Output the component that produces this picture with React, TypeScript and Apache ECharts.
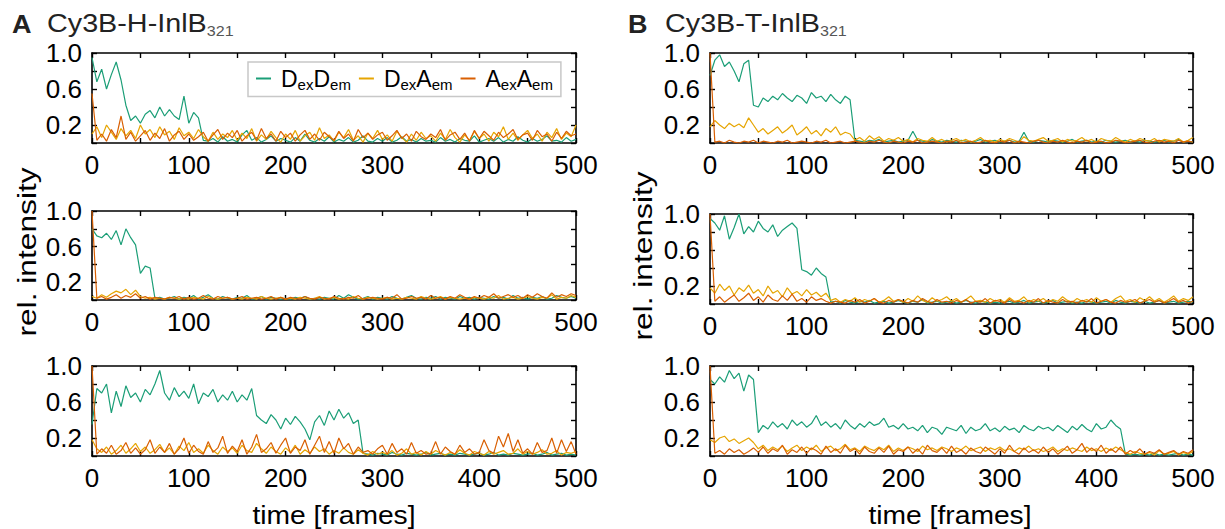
import React, { useEffect, useRef } from "react";
import * as echarts from "echarts";

// sampled every 5 frames: 0, 5, ..., 500
const frames: number[] = Array.from({ length: 101 }, (_, i) => i * 5);

// ---- Panel A (Cy3B-H-InlB321) ----
const ga1 = [
  0.95, 0.68, 0.82, 0.60, 0.76, 0.90, 0.70, 0.42, 0.25, 0.30,
  0.22, 0.32, 0.36, 0.28, 0.40, 0.30, 0.37, 0.30, 0.26, 0.52,
  0.22, 0.34, 0.28, 0.03, 0.02, 0.05, 0.01, 0.07, 0.02, 0.04,
  0.01, 0.09, 0.14, 0.03, 0.06, 0.01, 0.04, 0.08, 0.02, 0.05,
  0.03, 0.01, 0.06, 0.02, 0.10, 0.03, 0.01, 0.05, 0.02, 0.07,
  0.01, 0.04, 0.02, 0.06, 0.01, 0.03, 0.08, 0.02, 0.01, 0.05,
  0.02, 0.06, 0.01, 0.03, 0.07, 0.02, 0.04, 0.01, 0.05, 0.02,
  0.03, 0.01, 0.06, 0.02, 0.04, 0.01, 0.05, 0.03, 0.02, 0.08,
  0.01, 0.03, 0.05, 0.02, 0.06, 0.01, 0.04, 0.02, 0.07, 0.03,
  0.01, 0.05, 0.02, 0.04, 0.08, 0.02, 0.03, 0.01, 0.06, 0.02,
  0.04,
];
const ya1 = [
  0.10, 0.18, 0.06, 0.20, 0.12, 0.04, 0.16, 0.08, 0.14, 0.05,
  0.20, 0.10, 0.15, 0.06, 0.18, 0.09, 0.13, 0.04, 0.17, 0.08,
  0.12, 0.05, 0.15, 0.07, 0.02, 0.12, 0.04, 0.10, 0.06, 0.14,
  0.03, 0.11, 0.05, 0.16, 0.02, 0.09, 0.04, 0.13, 0.06, 0.01,
  0.10, 0.04, 0.14, 0.02, 0.08, 0.12, 0.03, 0.17, 0.05, 0.09,
  0.02, 0.12, 0.06, 0.15, 0.03, 0.08, 0.01, 0.11, 0.05, 0.14,
  0.04, 0.09, 0.02, 0.13, 0.06, 0.01, 0.10, 0.03, 0.12, 0.05,
  0.08, 0.02, 0.11, 0.04, 0.15, 0.06, 0.01, 0.09, 0.03, 0.13,
  0.05, 0.10, 0.02, 0.12, 0.07, 0.18, 0.04, 0.11, 0.03, 0.09,
  0.14, 0.05, 0.10, 0.02, 0.12, 0.06, 0.16, 0.04, 0.11, 0.07,
  0.20,
];
const ra1 = [
  0.55, 0.03, 0.10, 0.02, 0.15, 0.06, 0.30, 0.04, 0.12, 0.02,
  0.08, 0.14, 0.03, 0.11, 0.05, 0.16, 0.02, 0.09, 0.13, 0.04,
  0.10, 0.03, 0.07, 0.12, 0.02, 0.09, 0.15, 0.04, 0.11, 0.06,
  0.14, 0.02, 0.08, 0.12, 0.03, 0.16, 0.05, 0.10, 0.02, 0.13,
  0.06, 0.11, 0.02, 0.09, 0.14, 0.04, 0.10, 0.03, 0.12, 0.07,
  0.03, 0.13, 0.05, 0.10, 0.02, 0.15, 0.06, 0.11, 0.04, 0.09,
  0.12, 0.03, 0.08, 0.14, 0.05, 0.10, 0.02, 0.13, 0.07, 0.04,
  0.10, 0.06, 0.15, 0.03, 0.09, 0.12, 0.04, 0.11, 0.02, 0.14,
  0.05, 0.13, 0.08, 0.03, 0.12, 0.06, 0.10, 0.15, 0.04, 0.09,
  0.11, 0.03, 0.14, 0.07, 0.10, 0.02, 0.12, 0.05, 0.13, 0.08,
  0.10,
];

const ga2 = [
  0.80, 0.72, 0.70, 0.75, 0.68, 0.78, 0.62, 0.80, 0.70, 0.62,
  0.30, 0.38, 0.36, 0.02, 0.03, 0.01, 0.02, 0.04, 0.01, 0.03,
  0.02, 0.05, 0.01, 0.03, 0.06, 0.02, 0.01, 0.04, 0.02, 0.01,
  0.03, 0.02, 0.05, 0.01, 0.02, 0.04, 0.01, 0.03, 0.02, 0.01,
  0.02, 0.01, 0.03, 0.02, 0.04, 0.01, 0.02, 0.01, 0.03, 0.02,
  0.01, 0.05, 0.02, 0.06, 0.03, 0.01, 0.02, 0.04, 0.01, 0.03,
  0.02, 0.01, 0.04, 0.02, 0.01, 0.03, 0.05, 0.02, 0.01, 0.03,
  0.02, 0.04, 0.01, 0.03, 0.02, 0.01, 0.04, 0.02, 0.03, 0.01,
  0.03, 0.02, 0.01, 0.04, 0.02, 0.03, 0.01, 0.05, 0.02, 0.03,
  0.01, 0.03, 0.02, 0.04, 0.01, 0.02, 0.05, 0.03, 0.02, 0.04,
  0.02,
];
const ya2 = [
  0.04, 0.02, 0.06, 0.03, 0.07, 0.10, 0.08, 0.12, 0.06, 0.11,
  0.04, 0.02, 0.03, 0.01, 0.02, 0.01, 0.03, 0.02, 0.01, 0.02,
  0.01, 0.03, 0.02, 0.01, 0.04, 0.02, 0.01, 0.02, 0.03, 0.01,
  0.02, 0.01, 0.03, 0.02, 0.01, 0.04, 0.02, 0.01, 0.02, 0.03,
  0.01, 0.02, 0.01, 0.03, 0.02, 0.01, 0.02, 0.04, 0.01, 0.02,
  0.03, 0.01, 0.02, 0.01, 0.04, 0.02, 0.01, 0.03, 0.02, 0.01,
  0.02, 0.03, 0.01, 0.02, 0.01, 0.03, 0.02, 0.01, 0.04, 0.02,
  0.01, 0.02, 0.04, 0.01, 0.03, 0.02, 0.01, 0.02, 0.01, 0.03,
  0.02, 0.01, 0.03, 0.02, 0.05, 0.01, 0.02, 0.03, 0.01, 0.02,
  0.04, 0.02, 0.01, 0.03, 0.02, 0.06, 0.01, 0.03, 0.02, 0.05,
  0.03,
];
const ra2 = [
  1.00, 0.02, 0.04, 0.01, 0.03, 0.06, 0.02, 0.05, 0.03, 0.07,
  0.02, 0.04, 0.01, 0.03, 0.02, 0.01, 0.03, 0.02, 0.04, 0.01,
  0.03, 0.01, 0.02, 0.05, 0.02, 0.01, 0.04, 0.02, 0.03, 0.01,
  0.02, 0.04, 0.01, 0.02, 0.03, 0.01, 0.02, 0.04, 0.01, 0.03,
  0.01, 0.03, 0.02, 0.01, 0.04, 0.02, 0.01, 0.03, 0.02, 0.01,
  0.04, 0.02, 0.01, 0.03, 0.02, 0.05, 0.01, 0.02, 0.03, 0.02,
  0.01, 0.03, 0.02, 0.06, 0.01, 0.02, 0.04, 0.02, 0.03, 0.01,
  0.05, 0.02, 0.03, 0.01, 0.04, 0.02, 0.06, 0.03, 0.01, 0.04,
  0.02, 0.05, 0.03, 0.07, 0.02, 0.04, 0.06, 0.03, 0.05, 0.02,
  0.06, 0.03, 0.07, 0.04, 0.02, 0.08, 0.03, 0.06, 0.04, 0.07,
  0.05,
];

const ga3 = [
  0.35, 0.75, 0.70, 0.80, 0.48, 0.72, 0.55, 0.78, 0.65, 0.70,
  0.60, 0.74, 0.68, 0.80, 0.95, 0.70, 0.62, 0.76, 0.66, 0.72,
  0.64, 0.80, 0.58, 0.70, 0.66, 0.74, 0.60, 0.68, 0.62, 0.72,
  0.60, 0.68, 0.62, 0.75, 0.45, 0.40, 0.36, 0.46, 0.40, 0.30,
  0.42, 0.35, 0.44, 0.38, 0.30, 0.18, 0.38, 0.45, 0.34, 0.50,
  0.40, 0.52, 0.42, 0.48, 0.36, 0.40, 0.03, 0.02, 0.01, 0.03,
  0.02, 0.01, 0.04, 0.02, 0.01, 0.03, 0.02, 0.01, 0.02, 0.04,
  0.01, 0.02, 0.03, 0.01, 0.02, 0.01, 0.03, 0.02, 0.01, 0.02,
  0.03, 0.01, 0.02, 0.04, 0.01, 0.02, 0.01, 0.03, 0.02, 0.01,
  0.02, 0.03, 0.01, 0.02, 0.04, 0.01, 0.02, 0.03, 0.01, 0.02,
  0.01,
];
const ya3 = [
  0.18, 0.08, 0.04, 0.10, 0.02, 0.06, 0.12, 0.03, 0.08, 0.14,
  0.05, 0.10, 0.03, 0.07, 0.13, 0.04, 0.09, 0.02, 0.11, 0.06,
  0.15, 0.04, 0.08, 0.03, 0.12, 0.06, 0.02, 0.10, 0.05, 0.09,
  0.03, 0.12, 0.06, 0.04, 0.14, 0.08, 0.03, 0.10, 0.05, 0.02,
  0.09, 0.04, 0.12, 0.02, 0.07, 0.03, 0.10, 0.05, 0.08, 0.02,
  0.06, 0.03, 0.09, 0.04, 0.02, 0.07, 0.03, 0.01, 0.05, 0.02,
  0.04, 0.02, 0.06, 0.01, 0.03, 0.08, 0.02, 0.04, 0.01, 0.05,
  0.02, 0.06, 0.03, 0.01, 0.04, 0.02, 0.07, 0.03, 0.01, 0.05,
  0.03, 0.01, 0.05, 0.02, 0.04, 0.06, 0.02, 0.03, 0.08, 0.02,
  0.05, 0.02, 0.04, 0.07, 0.02, 0.03, 0.06, 0.01, 0.04, 0.03,
  0.05,
];
const ra3 = [
  1.00, 0.02, 0.08, 0.03, 0.12, 0.02, 0.06, 0.15, 0.03, 0.09,
  0.02, 0.07, 0.18, 0.03, 0.10, 0.04, 0.14, 0.02, 0.08, 0.20,
  0.03, 0.12, 0.05, 0.02, 0.16, 0.04, 0.09, 0.22, 0.03, 0.11,
  0.05, 0.18, 0.02, 0.10, 0.24, 0.04, 0.08, 0.15, 0.03, 0.12,
  0.20, 0.03, 0.10, 0.06, 0.18, 0.02, 0.12, 0.22, 0.04, 0.16,
  0.03, 0.20, 0.08, 0.14, 0.02, 0.10, 0.04, 0.06, 0.02, 0.08,
  0.12, 0.02, 0.14, 0.04, 0.08, 0.02, 0.15, 0.03, 0.06, 0.02,
  0.03, 0.16, 0.02, 0.10, 0.05, 0.02, 0.12, 0.04, 0.08, 0.02,
  0.04, 0.18, 0.06, 0.03, 0.22, 0.10, 0.25, 0.05, 0.18, 0.03,
  0.08, 0.02, 0.15, 0.04, 0.06, 0.20, 0.03, 0.18, 0.05, 0.16,
  0.02,
];

// ---- Panel B (Cy3B-T-InlB321) ----
const gb1 = [
  0.75, 0.92, 0.98, 0.85, 0.90, 0.80, 0.68, 0.88, 0.92, 0.42,
  0.40, 0.50, 0.46, 0.52, 0.48, 0.55, 0.50, 0.46, 0.53, 0.50,
  0.44, 0.56, 0.50, 0.52, 0.46, 0.54, 0.48, 0.44, 0.52, 0.48,
  0.03, 0.02, 0.01, 0.03, 0.02, 0.04, 0.01, 0.02, 0.03, 0.01,
  0.02, 0.03, 0.13, 0.03, 0.02, 0.01, 0.04, 0.02, 0.01, 0.03,
  0.02, 0.01, 0.03, 0.02, 0.01, 0.02, 0.04, 0.01, 0.02, 0.03,
  0.01, 0.02, 0.03, 0.01, 0.02, 0.12, 0.02, 0.01, 0.03, 0.02,
  0.01, 0.03, 0.02, 0.01, 0.02, 0.04, 0.01, 0.02, 0.03, 0.01,
  0.02, 0.01, 0.03, 0.02, 0.01, 0.02, 0.03, 0.01, 0.02, 0.01,
  0.03, 0.02, 0.01, 0.02, 0.03, 0.01, 0.02, 0.04, 0.01, 0.02,
  0.01,
];
const yb1 = [
  0.18, 0.25, 0.20, 0.16, 0.22, 0.18, 0.21, 0.17, 0.28, 0.20,
  0.12, 0.16, 0.10, 0.14, 0.18, 0.11, 0.15, 0.20, 0.09, 0.13,
  0.18, 0.10, 0.14, 0.08, 0.16, 0.12, 0.18, 0.09, 0.12, 0.10,
  0.03, 0.06, 0.02, 0.08, 0.04, 0.07, 0.02, 0.05, 0.03, 0.06,
  0.02, 0.04, 0.01, 0.05, 0.03, 0.02, 0.06, 0.02, 0.04, 0.01,
  0.03, 0.05, 0.02, 0.04, 0.01, 0.03, 0.06, 0.02, 0.03, 0.01,
  0.04, 0.02, 0.05, 0.03, 0.01, 0.07, 0.03, 0.02, 0.04, 0.06,
  0.02, 0.03, 0.05, 0.01, 0.04, 0.02, 0.03, 0.06, 0.02, 0.04,
  0.01, 0.05, 0.03, 0.02, 0.06, 0.03, 0.01, 0.04, 0.02, 0.05,
  0.03, 0.02, 0.05, 0.01, 0.04, 0.03, 0.02, 0.05, 0.01, 0.03,
  0.06,
];
const rb1 = [
  1.00, 0.01, 0.02, 0.00, 0.03, 0.01, 0.00, 0.02, 0.01, 0.03,
  0.00, 0.02, 0.01, 0.00, 0.02, 0.01, 0.03, 0.00, 0.01, 0.02,
  0.01, 0.00, 0.02, 0.01, 0.03, 0.00, 0.01, 0.02, 0.00, 0.01,
  0.02, 0.01, 0.00, 0.02, 0.01, 0.03, 0.01, 0.00, 0.02, 0.01,
  0.00, 0.02, 0.01, 0.03, 0.00, 0.01, 0.02, 0.01, 0.00, 0.02,
  0.01, 0.03, 0.00, 0.01, 0.02, 0.00, 0.01, 0.03, 0.01, 0.00,
  0.02, 0.01, 0.03, 0.00, 0.02, 0.01, 0.00, 0.02, 0.03, 0.01,
  0.00, 0.02, 0.01, 0.03, 0.01, 0.00, 0.02, 0.01, 0.03, 0.00,
  0.01, 0.02, 0.00, 0.01, 0.03, 0.02, 0.00, 0.01, 0.02, 0.03,
  0.01, 0.00, 0.02, 0.03, 0.01, 0.02, 0.00, 0.03, 0.01, 0.02,
  0.01,
];

const gb2 = [
  0.95, 0.90, 0.82, 0.98, 0.72, 0.85, 1.00, 0.78, 0.86, 0.80,
  0.92, 0.84, 0.80, 0.88, 0.75, 0.82, 0.86, 0.90, 0.84, 0.38,
  0.36, 0.32, 0.40, 0.34, 0.30, 0.02, 0.03, 0.01, 0.04, 0.02,
  0.01, 0.03, 0.02, 0.04, 0.01, 0.02, 0.03, 0.01, 0.02, 0.04,
  0.02, 0.01, 0.03, 0.02, 0.05, 0.01, 0.02, 0.03, 0.01, 0.02,
  0.03, 0.01, 0.02, 0.04, 0.02, 0.01, 0.03, 0.02, 0.01, 0.02,
  0.01, 0.02, 0.03, 0.01, 0.02, 0.04, 0.01, 0.02, 0.03, 0.01,
  0.02, 0.04, 0.01, 0.02, 0.03, 0.01, 0.02, 0.01, 0.03, 0.02,
  0.01, 0.02, 0.03, 0.01, 0.04, 0.02, 0.01, 0.03, 0.02, 0.01,
  0.03, 0.01, 0.02, 0.04, 0.01, 0.02, 0.03, 0.01, 0.02, 0.03,
  0.02,
];
const yb2 = [
  0.18, 0.12, 0.22, 0.15, 0.20, 0.10, 0.18, 0.14, 0.21, 0.12,
  0.16, 0.09, 0.20, 0.12, 0.15, 0.08, 0.18, 0.11, 0.14, 0.09,
  0.16, 0.10, 0.13, 0.08, 0.12, 0.04, 0.06, 0.02, 0.05, 0.03,
  0.07, 0.02, 0.05, 0.03, 0.06, 0.02, 0.04, 0.08, 0.03, 0.05,
  0.02, 0.06, 0.03, 0.09, 0.04, 0.02, 0.07, 0.03, 0.05, 0.08,
  0.03, 0.06, 0.02, 0.05, 0.09, 0.03, 0.04, 0.02, 0.06, 0.03,
  0.05, 0.02, 0.07, 0.03, 0.04, 0.08, 0.02, 0.05, 0.03, 0.06,
  0.02, 0.05, 0.03, 0.08, 0.04, 0.02, 0.06, 0.03, 0.05, 0.02,
  0.07, 0.03, 0.05, 0.02, 0.06, 0.09, 0.03, 0.05, 0.02, 0.07,
  0.04, 0.08, 0.03, 0.06, 0.02, 0.05, 0.09, 0.03, 0.06, 0.04,
  0.08,
];
const rb2 = [
  1.00, 0.03, 0.08, 0.02, 0.06, 0.10, 0.03, 0.07, 0.12, 0.04,
  0.08, 0.02, 0.10, 0.05, 0.03, 0.09, 0.04, 0.11, 0.03, 0.06,
  0.02, 0.08, 0.04, 0.06, 0.03, 0.01, 0.03, 0.02, 0.01, 0.04,
  0.02, 0.05, 0.01, 0.03, 0.06, 0.02, 0.01, 0.04, 0.02, 0.05,
  0.03, 0.01, 0.04, 0.02, 0.06, 0.03, 0.01, 0.05, 0.02, 0.03,
  0.01, 0.04, 0.02, 0.05, 0.01, 0.03, 0.02, 0.06, 0.01, 0.04,
  0.03, 0.01, 0.05, 0.02, 0.03, 0.01, 0.04, 0.02, 0.06, 0.01,
  0.04, 0.02, 0.01, 0.05, 0.02, 0.03, 0.01, 0.04, 0.02, 0.06,
  0.01, 0.03, 0.05, 0.02, 0.01, 0.04, 0.02, 0.03, 0.05, 0.01,
  0.03, 0.05, 0.02, 0.04, 0.01, 0.03, 0.06, 0.02, 0.04, 0.01,
  0.03,
];

const gb3 = [
  0.85, 0.80, 0.88, 0.82, 0.95, 0.86, 0.92, 0.72, 0.90, 0.85,
  0.26, 0.34, 0.30, 0.38, 0.32, 0.36, 0.30, 0.40, 0.34, 0.38,
  0.32, 0.36, 0.45, 0.34, 0.38, 0.32, 0.36, 0.30, 0.40, 0.34,
  0.30, 0.36, 0.32, 0.38, 0.34, 0.36, 0.42, 0.32, 0.34, 0.30,
  0.36, 0.30, 0.32, 0.28, 0.34, 0.26, 0.32, 0.30, 0.24, 0.32,
  0.30, 0.28, 0.34, 0.25, 0.32, 0.28, 0.30, 0.36, 0.28, 0.31,
  0.27, 0.33, 0.29, 0.31, 0.26, 0.34, 0.30, 0.28, 0.33, 0.30,
  0.32, 0.28, 0.34, 0.30, 0.26, 0.33, 0.29, 0.35, 0.30, 0.27,
  0.36, 0.30, 0.32, 0.40, 0.34, 0.30, 0.02, 0.01, 0.02, 0.01,
  0.02, 0.01, 0.03, 0.01, 0.02, 0.01, 0.02, 0.03, 0.01, 0.02,
  0.01,
];
const yb3 = [
  0.18, 0.15, 0.20, 0.22, 0.16, 0.19, 0.14, 0.17, 0.20, 0.15,
  0.08, 0.12, 0.06, 0.10, 0.07, 0.11, 0.05, 0.09, 0.12, 0.06,
  0.10, 0.07, 0.12, 0.05, 0.09, 0.11, 0.06, 0.08, 0.13, 0.07,
  0.09, 0.05, 0.11, 0.08, 0.06, 0.10, 0.07, 0.12, 0.05, 0.09,
  0.06, 0.10, 0.08, 0.05, 0.11, 0.07, 0.09, 0.06, 0.10, 0.08,
  0.05, 0.09, 0.07, 0.11, 0.06, 0.08, 0.10, 0.05, 0.09, 0.07,
  0.10, 0.06, 0.08, 0.05, 0.09, 0.07, 0.11, 0.06, 0.08, 0.05,
  0.07, 0.10, 0.05, 0.08, 0.06, 0.09, 0.07, 0.05, 0.10, 0.06,
  0.08, 0.05, 0.09, 0.06, 0.10, 0.07, 0.04, 0.02, 0.05, 0.03,
  0.02, 0.04, 0.01, 0.06, 0.02, 0.03, 0.05, 0.01, 0.04, 0.02,
  0.05,
];
const rb3 = [
  1.00, 0.03, 0.06, 0.02, 0.08, 0.04, 0.07, 0.02, 0.05, 0.09,
  0.04, 0.10, 0.03, 0.08, 0.05, 0.12, 0.02, 0.07, 0.04, 0.10,
  0.03, 0.09, 0.06, 0.02, 0.11, 0.04, 0.08, 0.03, 0.12, 0.05,
  0.08, 0.02, 0.10, 0.05, 0.03, 0.09, 0.04, 0.11, 0.02, 0.07,
  0.05, 0.10, 0.03, 0.08, 0.02, 0.12, 0.06, 0.04, 0.09, 0.03,
  0.11, 0.04, 0.07, 0.02, 0.09, 0.05, 0.03, 0.10, 0.06, 0.02,
  0.08, 0.03, 0.12, 0.05, 0.02, 0.09, 0.04, 0.07, 0.03, 0.10,
  0.04, 0.08, 0.02, 0.06, 0.11, 0.03, 0.07, 0.14, 0.04, 0.09,
  0.05, 0.12, 0.03, 0.08, 0.04, 0.10, 0.02, 0.06, 0.03, 0.08,
  0.02, 0.05, 0.03, 0.07, 0.02, 0.04, 0.06, 0.02, 0.05, 0.03,
  0.07,
];

const seriesNames = ["DexDem", "DexAem", "AexAem"];
const yLabelTicks = [0.2, 0.6, 1.0];
const xLabelTicks = [0, 100, 200, 300, 400, 500];

const GREEN = "#1b9e77";
const YELLOW = "#e6a502";
const RED = "#d95f02";
const FONT = '"Liberation Sans", Arial, Helvetica, sans-serif';

const panels = [
  { left: 92, top: 53, width: 484, height: 90, g: ga1, y: ya1, r: ra1 },
  { left: 92, top: 211, width: 484, height: 89, g: ga2, y: ya2, r: ra2 },
  { left: 92, top: 366, width: 484, height: 90, g: ga3, y: ya3, r: ra3 },
  { left: 710, top: 53, width: 483, height: 90, g: gb1, y: yb1, r: rb1 },
  { left: 710, top: 214, width: 483, height: 90, g: gb2, y: yb2, r: rb2 },
  { left: 710, top: 366, width: 483, height: 90, g: gb3, y: yb3, r: rb3 },
];

function buildOption() {
  const grid: any[] = [];
  const xAxis: any[] = [];
  const yAxis: any[] = [];
  const series: any[] = [];
  const axisLine = { show: true, onZero: false, lineStyle: { color: "#000", width: 1.6 } };
  const axisTick = { show: true, inside: true, length: 5, lineStyle: { color: "#000", width: 1.4 } };
  panels.forEach((p, i) => {
    grid.push({ left: p.left, top: p.top, width: p.width, height: p.height });
    xAxis.push({
      type: "value", gridIndex: i, min: 0, max: 500, interval: 50, position: "bottom",
      axisLine, axisTick, splitLine: { show: false },
      axisLabel: {
        show: true, margin: 9, fontSize: 26, color: "#000", fontFamily: FONT,
        formatter: (v: number) => (xLabelTicks.includes(Math.round(v)) ? String(Math.round(v)) : ""),
      },
    });
    xAxis.push({
      type: "value", gridIndex: i, min: 0, max: 500, interval: 50, position: "top",
      axisLine, axisTick, splitLine: { show: false }, axisLabel: { show: false },
    });
    yAxis.push({
      type: "value", gridIndex: i, min: 0, max: 1, interval: 0.2, position: "left",
      axisLine, axisTick, splitLine: { show: false },
      axisLabel: {
        show: true, margin: 10, fontSize: 26, color: "#000", fontFamily: FONT,
        formatter: (v: number) =>
          yLabelTicks.some((t) => Math.abs(t - v) < 1e-6) ? v.toFixed(1) : "",
      },
    });
    yAxis.push({
      type: "value", gridIndex: i, min: 0, max: 1, interval: 0.2, position: "right",
      axisLine, axisTick, splitLine: { show: false }, axisLabel: { show: false },
    });
    const vals = [p.g, p.y, p.r];
    const cols = [GREEN, YELLOW, RED];
    vals.forEach((arr, k) => {
      series.push({
        type: "line", name: seriesNames[k], xAxisIndex: 2 * i, yAxisIndex: 2 * i,
        data: frames.map((f, j) => [f, arr[j]]),
        showSymbol: false, symbol: "none",
        lineStyle: { width: 1.2, color: cols[k] },
        itemStyle: { color: cols[k] },
        z: 2 + k,
      });
    });
  });

  const legendText: Record<string, string> = {
    DexDem: "{g|}{n|D}{s|ex}{n|D}{s|em}",
    DexAem: "{g|}{n|D}{s|ex}{n|A}{s|em}",
    AexAem: "{g|}{n|A}{s|ex}{n|A}{s|em}",
  };

  const textStyle = (text: string, font: string, align: string) => ({
    text, font, fill: "#000",
    align, textAlign: align, verticalAlign: "middle", textVerticalAlign: "middle",
  });

  const titleLetter = (x: number, letter: string) => ({
    type: "text", x, y: 24, scaleX: 1.08,
    style: { ...textStyle(letter, `bold 25px ${FONT}`, "left"), fill: "#222" },
  });

  const richTitle = (x: number, name: string) => ({
    type: "text", x, y: 24, scaleX: 1.15,
    style: {
      text: `{n|${name}}{s|321}`,
      align: "left", textAlign: "left", verticalAlign: "middle", textVerticalAlign: "middle",
      rich: {
        n: { fontSize: 25, fontFamily: FONT, fill: "#222", color: "#222", lineHeight: 28 },
        s: { fontSize: 14, fontFamily: FONT, fill: "#555", color: "#555", lineHeight: 10, verticalAlign: "bottom" },
      },
    },
  });

  const graphic: any[] = [
    titleLetter(12, "A"),
    richTitle(47, "Cy3B-H-InlB"),
    titleLetter(628, "B"),
    richTitle(665, "Cy3B-T-InlB"),
    { type: "text", x: 27, y: 252, rotation: Math.PI / 2, scaleX: 1.22, style: textStyle("rel. intensity", `26px ${FONT}`, "center") },
    { type: "text", x: 643, y: 256, rotation: Math.PI / 2, scaleX: 1.22, style: textStyle("rel. intensity", `26px ${FONT}`, "center") },
    { type: "text", x: 334, y: 516, scaleX: 1.13, style: textStyle("time [frames]", `25px ${FONT}`, "center") },
    { type: "text", x: 950, y: 516, scaleX: 1.13, style: textStyle("time [frames]", `25px ${FONT}`, "center") },
  ];

  return {
    animation: false,
    backgroundColor: "#fff",
    grid, xAxis, yAxis, series, graphic,
    legend: {
      data: seriesNames,
      left: 248, top: 62,
      orient: "horizontal",
      icon: "rect",
      itemWidth: 15, itemHeight: 2, itemGap: 8,
      padding: [5, 8, 5, 8],
      borderColor: "#c8c8c8", borderWidth: 1.5,
      backgroundColor: "#fff",
      formatter: (name: string) => legendText[name] || name,
      textStyle: {
        fontSize: 23, fontFamily: FONT, color: "#000",
        rich: {
          g: { width: 5 },
          n: { fontSize: 23, fontFamily: FONT, color: "#000", lineHeight: 26 },
          s: { fontSize: 15, fontFamily: FONT, color: "#000", lineHeight: 16, verticalAlign: "bottom" },
        },
      },
    },
  };
}

export default function App() {
  const ref = useRef<HTMLDivElement>(null);
  useEffect(() => {
    if (!ref.current) return;
    const chart = echarts.init(ref.current, undefined, { renderer: "svg" });
    chart.setOption(buildOption() as any);
    return () => chart.dispose();
  }, []);
  return (
    <div
      ref={ref}
      style={{ position: "fixed", left: 0, top: 0, width: 1225, height: 529, background: "#fff" }}
    />
  );
}
